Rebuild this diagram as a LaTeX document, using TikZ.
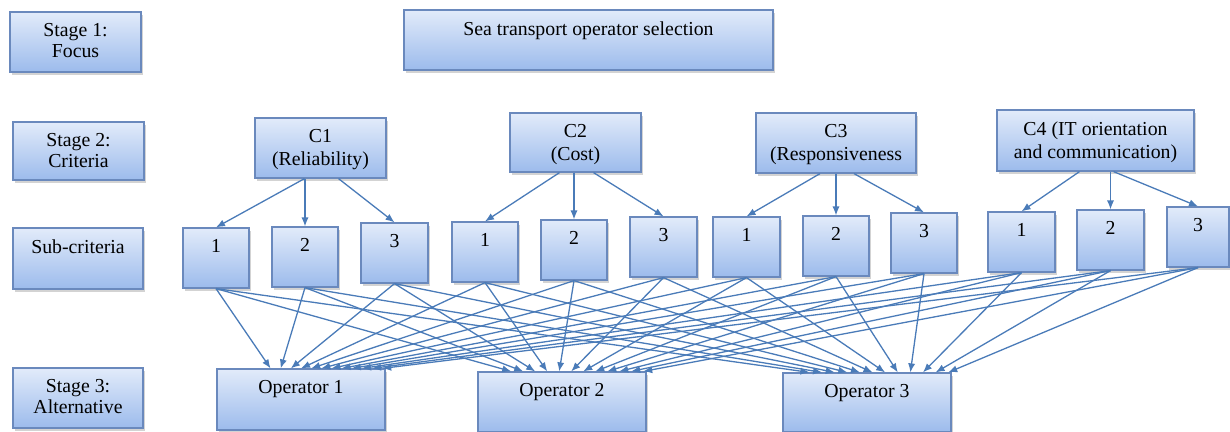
\documentclass[tikz,border=0pt]{standalone}
\usepackage{fontspec}
\setmainfont{Liberation Serif}
\usetikzlibrary{positioning,fit,calc,shadows,arrows.meta}
\definecolor{boxtop}{HTML}{E2EBFA}
\definecolor{boxbot}{HTML}{9CBBEC}
\definecolor{boxline}{HTML}{6A89BD}
\definecolor{linkblue}{HTML}{4A7BB8}

\begin{document}
\begin{tikzpicture}[x=0.5pt, y=-0.5pt,
        BoxStyle/.style = { draw=boxline, line width=0.6pt,
          top color=boxtop, bottom color=boxbot, inner sep=0pt,
          drop shadow={shadow xshift=1pt, shadow yshift=-1.3pt, opacity=0.35} },
        TextStyle/.style = { anchor=north, yshift=-6pt, inner sep=0pt,
          align=center, font=\rmfamily\fontsize{9.9}{11.5}\selectfont },
        StageText/.style = { TextStyle, font=\rmfamily\fontsize{9.9}{10.5}\selectfont },
        LinkStyle/.style = { draw=linkblue, line width=0.65pt,
          -{Latex[length=4.5pt, width=3.6pt]} }
      ]
      \useasboundingbox (0,0) rectangle (1230,432);
      % stage column
      \node[BoxStyle, fit={(10,12) (141,72)},
        label={[StageText]north:Stage 1:\\Focus}] (st1) {};
      \node[BoxStyle, fit={(13,122) (144,180)},
        label={[StageText]north:Stage 2:\\Criteria}] (st2) {};
      \node[BoxStyle, fit={(13,228) (143,289)},
        label={[StageText]north:Sub-criteria}] (st3) {};
      \node[BoxStyle, fit={(13,368) (143,428)},
        label={[StageText]north:Stage 3:\\Alternative}] (st4) {};
      % focus and criteria
      \node[BoxStyle, fit={(404,10) (773,70)},
        label={[TextStyle]north:Sea transport operator selection}] (goal) {};
      \node[BoxStyle, fit={(255,118) (386,178)},
        label={[TextStyle]north:C1\\(Reliability)}] (c1) {};
      \node[BoxStyle, fit={(510,113) (641,172)},
        label={[TextStyle]north:C2\\(Cost)}] (c2) {};
      \node[BoxStyle, fit={(756,113) (916,173)},
        label={[TextStyle]north:C3\\(Responsiveness}] (c3) {};
      \node[BoxStyle, fit={(997,110) (1194,171)},
        label={[TextStyle]north:C4 (IT orientation\\and communication)}] (c4) {};
      % sub-criteria
      \foreach \n/\xa/\ya/\xb/\t in {c1a/183/228/249/1, c1b/272/227/338/2,
          c1c/361/223/428/3, c2a/452/222/518/1, c2b/541/220/607/2,
          c2c/630/217/697/3, c3a/713/217/780/1, c3b/803/216/869/2,
          c3c/891/213/957/3, c4a/988/212/1055/1, c4b/1077/210/1144/2,
          c4c/1167/207/1229/3}
        \node[BoxStyle, fit={(\xa,\ya) (\xb,\ya+60)},
          label={[TextStyle]north:\t}] (\n) {};
      % alternatives
      \node[BoxStyle, fit={(217,369) (385,430)},
        label={[TextStyle]north:Operator 1}] (op1) {};
      \node[BoxStyle, fit={(478,372) (646,432)},
        label={[TextStyle]north:Operator 2}] (op2) {};
      \node[BoxStyle, fit={(783,373) (951,432)},
        label={[TextStyle]north:Operator 3}] (op3) {};
      % criteria to sub-criteria
      \foreach \k in {c1,c2,c3,c4} {
        \draw[LinkStyle] ([xshift=-8pt]\k.south) -- (\k a.north);
        \draw[LinkStyle] (\k b.north |- \k.south) -- (\k b.north);
        \draw[LinkStyle] ([xshift=9pt]\k.south) -- (\k c.north);
      }
      % sub-criteria to alternatives
      \foreach \o/\a in {op1/0.32, op2/0.2, op3/0.16}
        \foreach \s [count=\i from 0] in {c1a,c1b,c1c,c2a,c2b,c2c,
            c3a,c3b,c3c,c4a,c4b,c4c} {
          \pgfmathsetmacro\f{\a+(0.98-\a)*\i/11}
          \draw[LinkStyle] (\s.south) -- ($(\o.north west)!\f!(\o.north east)$);
        }
    \end{tikzpicture}
\end{document}
